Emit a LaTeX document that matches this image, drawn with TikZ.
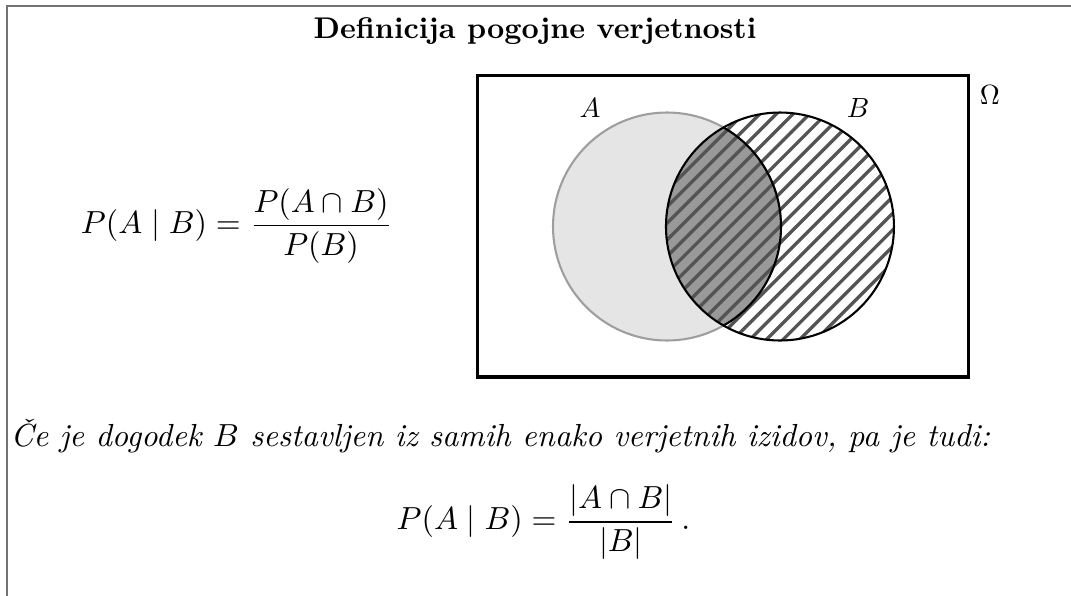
\documentclass[tikz,border=0pt]{standalone}
\usepackage{amsmath}
\usepackage{amssymb}
\usepackage{xcolor}
\usetikzlibrary{positioning,calc}

\begin{document}
\begin{tikzpicture}[
    frameline/.style={draw=black!55, line width=0.55pt},
    omegabox/.style={draw, line width=1.2pt},
    setA/.style={fill=black!10, draw=black!38, line width=0.75pt},
    setB/.style={draw=black, line width=0.75pt},
    hatchline/.style={draw=black!67, line width=1.2pt},
    lbl/.style={inner sep=0pt},
    body/.style={inner sep=0pt, transform shape, scale=1.15}
]
\useasboundingbox (0,0) rectangle (13.557,-7.544);

% okvir
\draw[frameline] (0.089,-7.7) -- (0.089,-0.076) -- (13.7,-0.076);
\node[lbl, anchor=base, transform shape, scale=1.078] (title) at (6.772,-0.481)
    {\textbf{Definicija pogojne verjetnosti}};

% formula
\node[body] (formula) at (2.996,-2.86) {$\displaystyle P(A \mid B) = \frac{P(A \cap B)}{P(B)}$};

% Vennov diagram
\coordinate (cA) at (8.443,-2.867);
\coordinate (cB) at (9.873,-2.867);
\def\rad{1.443}

\draw[omegabox] (6.044,-0.956) rectangle (12.26,-4.772);
\node[lbl] (omega) at (12.53,-1.203) {$\Omega$};

\filldraw[setA] (cA) circle (\rad);
\begin{scope}
  \clip (cB) circle (\rad);
  \fill[black!40] (cA) circle (\rad);
  \foreach \k in {-25,...,25}
    \draw[hatchline] ($(cB)+(\k*0.21-3,-3)$) -- ++(6,6);
  \draw[setB] (cA) circle (\rad);
\end{scope}
\draw[setB] (cB) circle (\rad);

\node[lbl] (labA) at (7.468,-1.367) {$A$};
\node[lbl] (labB) at (10.861,-1.367) {$B$};

% besedilo
\node[body, anchor=base west] (text) at (0.127,-5.655)
    {\textit{Če je dogodek $B$ sestavljen iz samih enako verjetnih izidov, pa je tudi:}};
\node[body] (formula2) at (6.88,-6.608) {$\displaystyle P(A \mid B) = \frac{|A \cap B|}{|B|}\,.$};
\end{tikzpicture}
\end{document}
